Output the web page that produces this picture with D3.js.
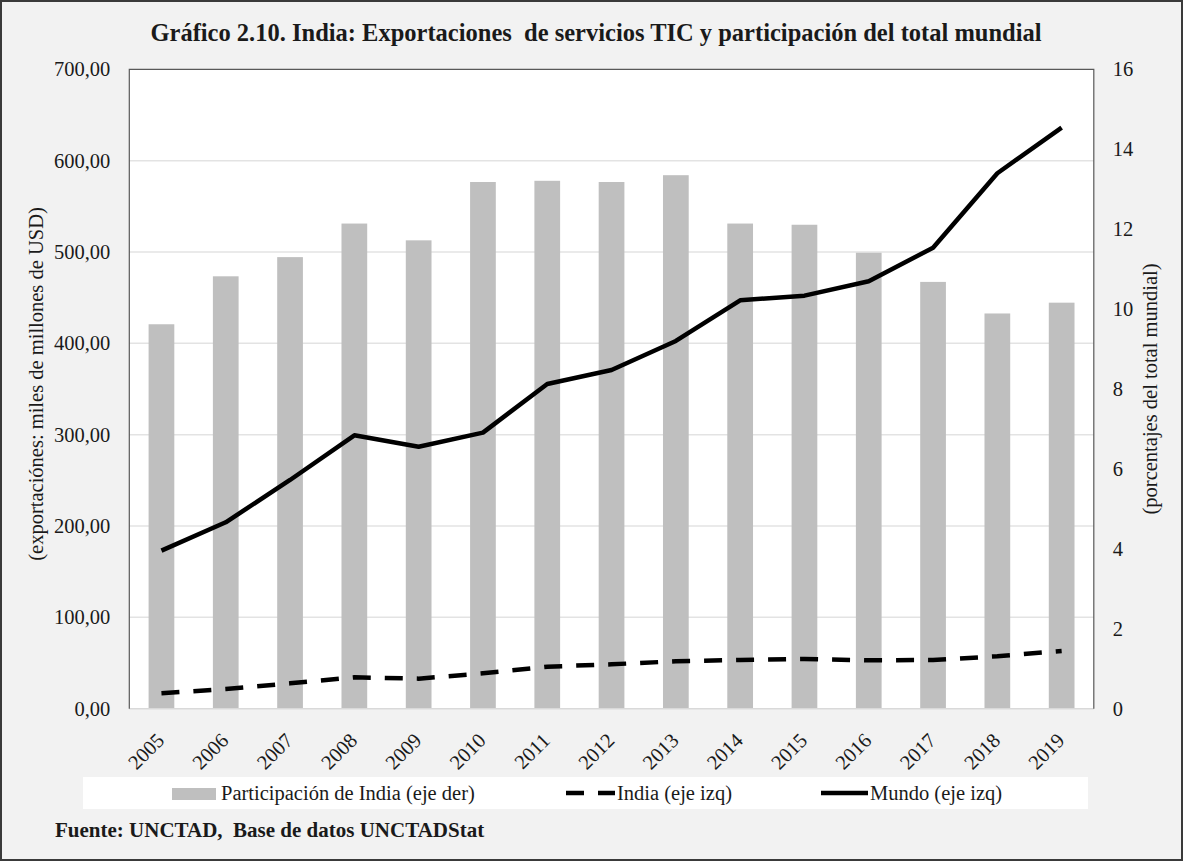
<!DOCTYPE html>
<html><head><meta charset="utf-8">
<script src="https://cdn.jsdelivr.net/npm/d3@7"></script>
<style>
html,body{margin:0;padding:0;background:#fff;}
</style></head>
<body>
<svg id="chart" width="1184" height="862"></svg>
<script>
const years = ["2005","2006","2007","2008","2009","2010","2011","2012","2013","2014","2015","2016","2017","2018","2019"];
const shareIndia = [9.62, 10.82, 11.30, 12.14, 11.72, 13.18, 13.21, 13.18, 13.35, 12.14, 12.11, 11.41, 10.68, 9.89, 10.16];
const exportsIndia = [16.9, 21.5, 27.8, 34.3, 32.9, 38.7, 46.0, 48.6, 51.9, 53.3, 54.4, 53.0, 53.3, 57.4, 63.2];
const exportsWorld = [173.0, 204.1, 250.4, 299.3, 286.8, 302.2, 355.5, 370.8, 402.6, 447.1, 452.2, 467.9, 504.7, 586.2, 636.1];
const leftTicks = [0, 100, 200, 300, 400, 500, 600, 700];
const rightTicks = [0, 2, 4, 6, 8, 10, 12, 14, 16];
const titleText = "Gráfico 2.10. India: Exportaciones  de servicios TIC y participación del total mundial";
const leftLabel = "(exportaciónes: miles de millones de USD)";
const rightLabel = "(porcentajes del total mundial)";
const legendLabels = ["Participación de India (eje der)", "India (eje izq)", "Mundo (eje izq)"];
const sourceText = "Fuente: UNCTAD,  Base de datos UNCTADStat";

const SERIF = "'Liberation Serif', 'Times New Roman', serif";
const svg = d3.select("#chart");
const W = 1184, H = 862;
const plot = {left: 129.3, right: 1093.8, top: 69.3, bottom: 708.7};

// background + outer border
svg.append("rect").attr("x",1).attr("y",1).attr("width",W-3).attr("height",H-3)
  .attr("fill","#f2f2f2").attr("stroke","#3a3a3a").attr("stroke-width",2);

// plot area
svg.append("rect").attr("x",plot.left).attr("y",plot.top)
  .attr("width",plot.right-plot.left).attr("height",plot.bottom-plot.top).attr("fill","#fff");

const x = d3.scaleBand().domain(years).range([plot.left, plot.right]).paddingInner(0.6).paddingOuter(0.3);
const yL = d3.scaleLinear().domain([0,700]).range([plot.bottom, plot.top]);
const yR = d3.scaleLinear().domain([0,16]).range([plot.bottom, plot.top]);
const fmt = v => d3.format(".2f")(v).replace(".", ",");

// gridlines
svg.append("g").selectAll("line").data(leftTicks.filter(d=>d>0 && d<700)).join("line")
  .attr("x1",plot.left).attr("x2",plot.right)
  .attr("y1",d=>yL(d)).attr("y2",d=>yL(d))
  .attr("stroke","#e3e3e3").attr("stroke-width",1.5);

// bars
svg.append("g").selectAll("rect").data(years).join("rect")
  .attr("x",d=>x(d)).attr("width",x.bandwidth())
  .attr("y",(d,i)=>yR(shareIndia[i])).attr("height",(d,i)=>plot.bottom-yR(shareIndia[i]))
  .attr("fill","#bfbfbf");

// axis frame
svg.append("line").attr("x1",plot.left).attr("x2",plot.right).attr("y1",plot.bottom).attr("y2",plot.bottom)
  .attr("stroke","#d9d9d9").attr("stroke-width",1.5);
svg.append("path").attr("d",`M${plot.left},${plot.bottom}V${plot.top}H${plot.right}V${plot.bottom}`)
  .attr("fill","none").attr("stroke","#595959").attr("stroke-width",1.2);

// lines
const cx = d => x(d) + x.bandwidth()/2;
const lineL = d3.line().x((d,i)=>cx(years[i])).y(d=>yL(d));
svg.append("path").datum(exportsIndia).attr("d",lineL)
  .attr("fill","none").attr("stroke","#000").attr("stroke-width",4.5)
  .attr("stroke-dasharray","18,14");
svg.append("path").datum(exportsWorld).attr("d",lineL)
  .attr("fill","none").attr("stroke","#000").attr("stroke-width",4.5)
  .attr("stroke-linejoin","round");

function styleText(sel, size, bold){
  sel.style("font-family",SERIF).style("font-size",size+"px")
     .style("font-weight",bold?"bold":"normal").style("fill","#1a1a1a");
  return sel;
}

// left axis
const axL = d3.axisLeft(yL).tickValues(leftTicks).tickFormat(fmt).tickSize(0).tickPadding(19);
const gL = svg.append("g").attr("transform",`translate(${plot.left},0)`).call(axL);
gL.select(".domain").remove();
styleText(gL.selectAll("text"), 20.5);

// right axis
const axR = d3.axisRight(yR).tickValues(rightTicks).tickSize(0).tickPadding(19);
const gR = svg.append("g").attr("transform",`translate(${plot.right},0)`).call(axR);
gR.select(".domain").remove();
styleText(gR.selectAll("text"), 20.5);

// x axis
const axX = d3.axisBottom(x).tickSize(0).tickPadding(0);
const gX = svg.append("g").attr("transform",`translate(0,${plot.bottom})`).call(axX);
gX.select(".domain").remove();
styleText(gX.selectAll("text"), 20.5)
  .attr("text-anchor","end").attr("dy","0.35em")
  .attr("transform","translate(-1,28) rotate(-45)").attr("y",0).attr("x",0);

// title
styleText(svg.append("text").attr("x",596).attr("y",41)
  .attr("text-anchor","middle").style("white-space","pre").text(titleText), 24.5, true);

// axis titles
styleText(svg.append("text").attr("transform",`translate(43,384) rotate(-90)`)
  .attr("text-anchor","middle").text(leftLabel), 20.5);
styleText(svg.append("text").attr("transform",`translate(1157,389) rotate(-90)`)
  .attr("text-anchor","middle").text(rightLabel), 20.5);

// legend
const lg = svg.append("g");
lg.append("rect").attr("x",83).attr("y",777).attr("width",1005).attr("height",32).attr("fill","#fff");
lg.append("rect").attr("x",172).attr("y",788).attr("width",44).attr("height",12).attr("fill","#bfbfbf");
styleText(lg.append("text").attr("x",221).attr("y",800).text(legendLabels[0]), 20.5);
lg.append("line").attr("x1",566).attr("x2",615).attr("y1",793).attr("y2",793)
  .attr("stroke","#000").attr("stroke-width",4.5).attr("stroke-dasharray","18,14");
styleText(lg.append("text").attr("x",617).attr("y",800).text(legendLabels[1]), 20.5);
lg.append("line").attr("x1",821).attr("x2",868).attr("y1",793).attr("y2",793)
  .attr("stroke","#000").attr("stroke-width",4.5);
styleText(lg.append("text").attr("x",870).attr("y",800).text(legendLabels[2]), 20.5);

// source
styleText(svg.append("text").attr("x",55).attr("y",837)
  .style("white-space","pre").text(sourceText), 21, true);
</script>
</body></html>
